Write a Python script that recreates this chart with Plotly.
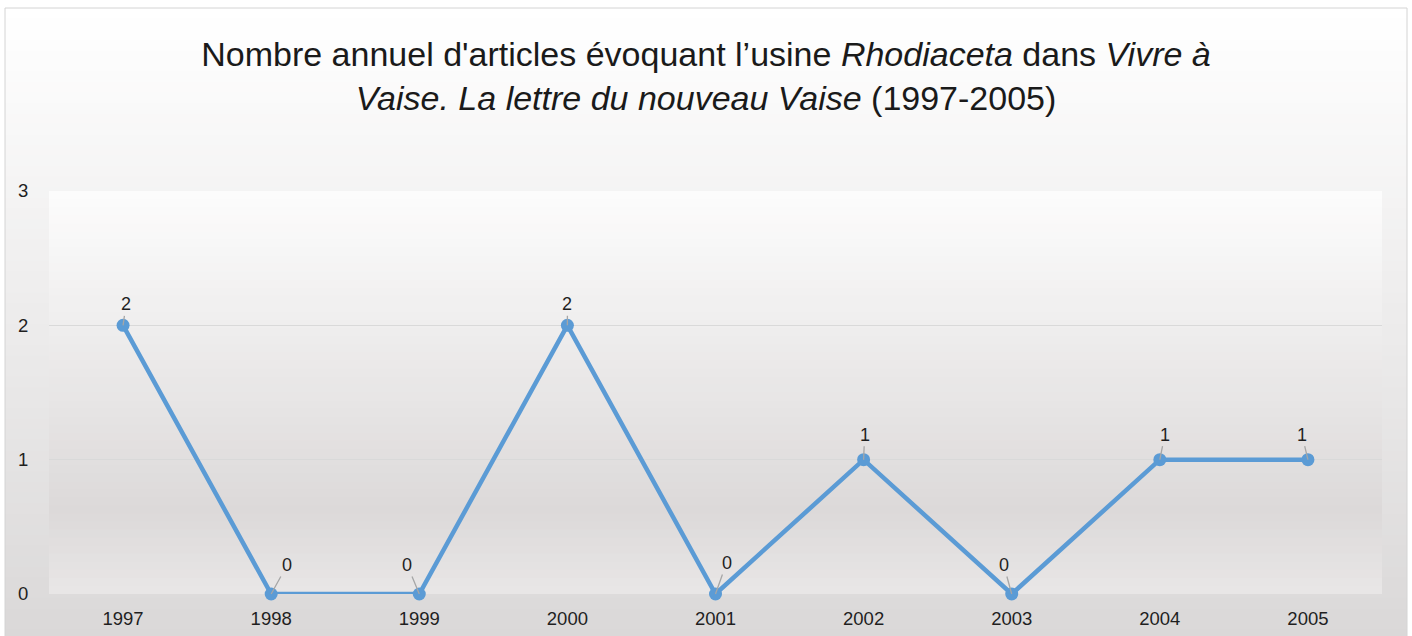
import plotly.graph_objects as go

years = ["1997", "1998", "1999", "2000", "2001", "2002", "2003", "2004", "2005"]
articles = [2, 0, 0, 2, 0, 1, 0, 1, 1]
y_ticks = [0, 1, 2, 3]

# label offsets (style only, pixels)
label_ax = [3, 16, -12, 0, 11, 1, -8, 5, -6]
label_ay = [-21, -29, -29, -21, -31, -25, -29, -25, -25]

W, H = 1412, 636
L, R, T, B = 49, 1382, 191, 594  # plot area in px


def px_x(px):
    return (px - L) / (R - L)


def px_y(py):
    return (B - py) / (B - T)


def mix(c0, c1, t):
    return "rgb(%d,%d,%d)" % tuple(round(a + (b - a) * t) for a, b in zip(c0, c1))


shapes = []
# outer chart gradient
n = 60
top, bot = 8, 640
c_top, c_bot = (255, 255, 255), (218, 216, 216)
for i in range(n):
    y0 = top + (bot - top) * i / n
    y1 = top + (bot - top) * (i + 1) / n + 1
    shapes.append(dict(type="rect", xref="paper", yref="paper", layer="below",
                       x0=px_x(5), x1=px_x(1407), y0=px_y(y1), y1=px_y(y0),
                       fillcolor=mix(c_top, c_bot, i / (n - 1)), line=dict(width=0)))
# chart border
shapes.append(dict(type="rect", xref="paper", yref="paper", layer="below",
                   x0=px_x(5), x1=px_x(1407), y0=px_y(660), y1=px_y(8),
                   fillcolor="rgba(0,0,0,0)", line=dict(width=1, color="#d4d4d4")))
# plot area gradient
n2 = 50
stops = [(0.0, (252, 252, 252)), (0.8, (220, 217, 217)), (1.0, (232, 230, 230))]
for i in range(n2):
    t = i / (n2 - 1)
    for (s0, ca), (s1, cb) in zip(stops[:-1], stops[1:]):
        if s0 <= t <= s1:
            col = mix(ca, cb, (t - s0) / (s1 - s0))
            break
    y0 = T + (B - T) * i / n2
    y1 = T + (B - T) * (i + 1) / n2 + 1
    shapes.append(dict(type="rect", xref="paper", yref="paper", layer="below",
                       x0=0, x1=1, y0=px_y(min(y1, B)), y1=px_y(y0),
                       fillcolor=col, line=dict(width=0)))

fig = go.Figure()
fig.add_trace(go.Scatter(
    x=years, y=articles, mode="lines+markers",
    line=dict(color="#5b9bd5", width=4.5),
    marker=dict(color="#5b9bd5", size=13),
    cliponaxis=False,
    hoverinfo="x+y", showlegend=False,
))

annotations = []
for idx, (v, ax, ay) in enumerate(zip(articles, label_ax, label_ay)):
    annotations.append(dict(
        x=idx, y=v, xref="x", yref="y", text=str(v),
        showarrow=True, arrowhead=0, arrowwidth=1.3, arrowcolor="#a6a6a6",
        ax=ax, ay=ay, standoff=0, startstandoff=0,
        font=dict(family="Liberation Sans, Arial, sans-serif", size=18, color="#1f1f1f"),
    ))

tick_font = dict(family="Liberation Sans, Arial, sans-serif", size=18.5, color="#1f1f1f")

fig.update_layout(
    width=W, height=H,
    margin=dict(l=L, r=W - R, t=T, b=H - B, pad=0, autoexpand=False),
    paper_bgcolor="white",
    plot_bgcolor="rgba(0,0,0,0)",
    title=dict(
        text="Nombre annuel d'articles évoquant l’usine <i>Rhodiaceta</i> dans <i>Vivre à</i><br>"
             "<i>Vaise. La lettre du nouveau Vaise</i> (1997-2005)",
        x=0.5, xanchor="center", y=1 - 66 / H, yanchor="top",
        font=dict(family="Liberation Sans, Arial, sans-serif", size=34, color="#1a1a1a"),
    ),
    xaxis=dict(
        type="category", range=[-0.5, len(years) - 0.5], automargin=False,
        showgrid=False, zeroline=False, showline=False,
        ticks="outside", ticklen=8, tickcolor="rgba(0,0,0,0)",
        tickfont=tick_font,
    ),
    yaxis=dict(
        range=[0, 3], tickvals=y_ticks, ticktext=[str(v) for v in y_ticks],
        automargin=False,
        showgrid=True, gridcolor="#d9d9d9", gridwidth=1.3,
        zeroline=False, showline=False,
        ticks="outside", ticklen=16, tickcolor="rgba(0,0,0,0)",
        tickfont=tick_font,
    ),
    shapes=shapes,
    annotations=annotations,
)

fig.write_html(
    "out.html",
    config={"displayModeBar": False},
    post_script="document.body.style.margin='0';document.body.style.overflow='hidden';",
)
